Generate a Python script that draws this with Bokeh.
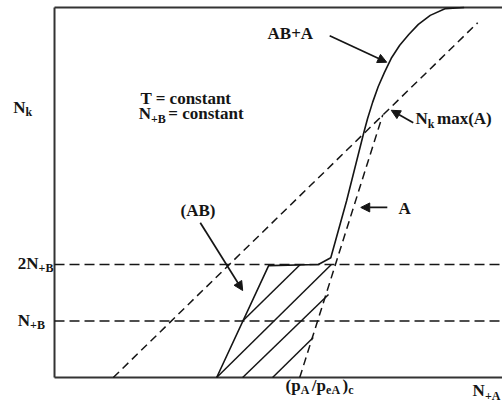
from bokeh.plotting import figure
from bokeh.models import Range1d, Arrow, NormalHead, ColumnDataSource
from bokeh.core.properties import value
from bokeh.embed import file_html
from bokeh.resources import INLINE

# Schematic in reduced units: the N_+B level is 1, 2N_+B is 2.
FRAME_TOP = 6.55
FRAME_RIGHT = 8.2

# AB+A isotherm (solid), starting at the origin of the (AB) plateau
curve_x = [2.87, 3.79, 4.67, 4.89, 5.17, 5.47, 5.54, 5.63, 5.73, 5.84, 5.96, 6.11,
           6.27, 6.44, 6.65, 6.92, 7.25]
curve_y = [0.00, 1.98, 2.00, 2.12, 3.13, 4.32, 4.58, 4.87, 5.15, 5.40, 5.65, 5.88,
           6.07, 6.25, 6.41, 6.53, 6.55]

# pure A isotherm (dashed), from (pA/peA)c up to the N_k max line
a_x = [4.34, 5.81]
a_y = [0.00, 4.65]

# N_k max(A) line (dashed)
nmax_x = [1.04, 7.49]
nmax_y = [0.00, 6.28]

# reference levels N_+B and 2N_+B
levels = [1.0, 2.0]

# hatching of the (AB) region
hatch_x0 = [3.33, 2.87, 3.33, 3.86]
hatch_y0 = [1.00, 0.00, 0.00, 0.00]
hatch_x1 = [4.35, 4.90, 4.85, 4.58]
hatch_y1 = [2.00, 2.00, 1.47, 0.71]

# annotation arrows: start -> tip
arrow_x0 = [4.87, 6.35, 5.89, 2.58]
arrow_y0 = [6.05, 4.51, 3.01, 2.74]
arrow_x1 = [5.88, 5.96, 5.42, 3.33]
arrow_y1 = [5.58, 4.73, 3.01, 1.54]

# labels: pieces of (text, is_subscript), anchored at left / middle
labels = [
    ([("N", False), ("k", True)], -0.73, 4.78),
    ([("T = constant", False)], 1.52, 4.94),
    ([("N", False), ("+B", True), (" = constant", False)], 1.49, 4.67),
    ([("AB+A", False)], 3.77, 6.09),
    ([("N", False), ("k", True), (" max(A)", False)], 6.39, 4.58),
    ([("A", False)], 6.09, 2.99),
    ([("(AB)", False)], 2.23, 2.96),
    ([("2N", False), ("+B", True)], -0.65, 2.02),
    ([("N", False), ("+B", True)], -0.65, 1.01),
    ([("(p", False), ("A", True), ("/p", False), ("eA", True), (")", False), ("c", True)], 4.09, -0.14),
    ([("N", False), ("+A", True)], 7.40, -0.23),
]

FONT = "Liberation Serif"
MAIN_PX = 17
SUB_PX = 12
SUB_GAP = 2.5
INK = "#151515"

# Times bold advance widths (1/1000 em) for laying out subscripts
ADV = {"N": 722, "k": 556, "+": 570, "B": 667, " ": 250, "=": 570, "c": 444,
       "o": 500, "n": 556, "s": 389, "t": 333, "a": 500, "m": 833, "x": 500,
       "(": 333, ")": 333, "A": 722, "2": 500, "p": 556, "/": 278, "e": 444,
       "T": 667}


def text_width(s, px):
    return sum(ADV.get(ch, 500) for ch in s) * px / 1000.0


p = figure(width=502, height=402, output_backend="svg", toolbar_location=None,
           x_range=Range1d(-0.956, 7.929), y_range=Range1d(-0.442, 6.673),
           x_axis_type=None, y_axis_type=None, min_border=0)
p.outline_line_color = None
p.grid.visible = False
p.background_fill_color = "white"
p.border_fill_color = "white"

# frame: left, bottom and top edges
p.segment(x0=[0, 0, 0], y0=[0, 0, FRAME_TOP], x1=[0, FRAME_RIGHT, FRAME_RIGHT],
          y1=[FRAME_TOP, 0, FRAME_TOP], line_color="#333333", line_width=2)

# reference levels
p.segment(x0=[0] * len(levels), y0=levels, x1=[FRAME_RIGHT] * len(levels), y1=levels,
          line_color=INK, line_width=1.6, line_dash="10 5")

# N_k max(A) and pure-A lines
p.line(nmax_x, nmax_y, line_color=INK, line_width=1.5, line_dash="8 5")
p.line(a_x, a_y, line_color=INK, line_width=1.5, line_dash="8 5")

# hatching and AB+A isotherm
p.segment(x0=hatch_x0, y0=hatch_y0, x1=hatch_x1, y1=hatch_y1, line_color=INK, line_width=1.5)
p.line(curve_x, curve_y, line_color=INK, line_width=1.6, line_join="round")

for xs, ys, xe, ye in zip(arrow_x0, arrow_y0, arrow_x1, arrow_y1):
    p.add_layout(Arrow(end=NormalHead(size=9, fill_color=INK, line_color=INK, line_width=1),
                       x_start=xs, y_start=ys, x_end=xe, y_end=ye,
                       line_color=INK, line_width=1.7))

main = dict(x=[], y=[], text=[], xo=[])
sub = dict(x=[], y=[], text=[], xo=[])
for pieces, lx, ly in labels:
    off = 0.0
    for s, is_sub in pieces:
        dst = sub if is_sub else main
        dst["x"].append(lx)
        dst["y"].append(ly)
        dst["text"].append(s)
        dst["xo"].append(off)
        off += text_width(s, SUB_PX if is_sub else MAIN_PX)
        if is_sub:
            off += SUB_GAP

p.text(x="x", y="y", text="text", x_offset="xo", source=ColumnDataSource(main),
       text_font=value(FONT), text_font_style="bold", text_font_size=f"{MAIN_PX}px",
       text_color=INK, text_align="left", text_baseline="middle")
p.text(x="x", y="y", text="text", x_offset="xo", y_offset=5, source=ColumnDataSource(sub),
       text_font=value(FONT), text_font_style="bold", text_font_size=f"{SUB_PX}px",
       text_color=INK, text_align="left", text_baseline="middle")

open("out.html", "w").write(file_html(p, INLINE))
